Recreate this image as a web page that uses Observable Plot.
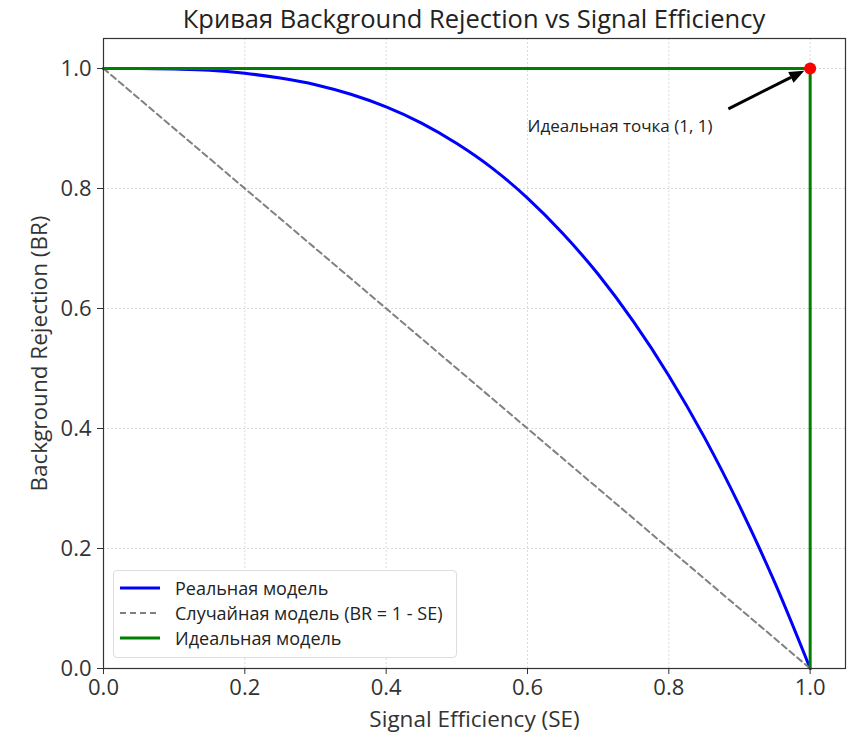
<!DOCTYPE html>
<html>
<head>
<meta charset="utf-8">
<script src="https://cdn.jsdelivr.net/npm/d3@7"></script>
<script src="https://cdn.jsdelivr.net/npm/@observablehq/plot@0.6"></script>
<style>
  body { margin: 0; background: #fff; font-family: "Open Sans", sans-serif; }
  #wrap { position: relative; width: 856px; height: 735px; }
  #title { position: absolute; left: 0; top: 1px; width: 948px; text-align: center; font-size: 25.5px; line-height: 34px; color: #222; }
  #chart { position: absolute; left: 0; top: 30px; }
  #legend { position: absolute; left: 113px; top: 570px; width: 344px; height: 88px; border: 1px solid #ddd; border-radius: 4px; background: rgba(255,255,255,0.85); box-sizing: border-box; font-size: 18px; color: #222; }
  .item { position: absolute; left: 6px; height: 24px; display: flex; align-items: center; }
  .item svg { margin-right: 15px; }
</style>
</head>
<body>
<div id="wrap">
  <div id="title">Кривая Background Rejection vs Signal Efficiency</div>
  <div id="chart"></div>
  <div id="legend"></div>
</div>
<script>
const se = [0, 0.05, 0.1, 0.15, 0.2, 0.25, 0.3, 0.35, 0.4, 0.45, 0.5, 0.55, 0.6, 0.65, 0.7, 0.75, 0.8, 0.85, 0.9, 0.95, 1.0];
const br = [1.0, 1.0, 0.999, 0.997, 0.992, 0.984, 0.973, 0.957, 0.936, 0.909, 0.875, 0.834, 0.784, 0.725, 0.657, 0.578, 0.488, 0.386, 0.271, 0.143, 0.0];
// Random model
const randomX = [0, 1];
const randomY = [1, 0];
// Ideal model
const idealX = [0, 1, 1];
const idealY = [1, 1, 0];
// Ideal point and annotation
const pointX = [1], pointY = [1];
const annotText = "Идеальная точка (1, 1)";
const annotX = 0.6, annotY = 0.9;
const arrowFrom = [0.885, 0.932];
const arrowTo = [1, 1];
const ticks = [0, 0.2, 0.4, 0.6, 0.8, 1.0];
const legendItems = [
  {label: "Реальная модель", color: "blue", dash: null},
  {label: "Случайная модель (BR = 1 - SE)", color: "gray", dash: "6,4"},
  {label: "Идеальная модель", color: "green", dash: null}
];

const real = se.map((x, i) => ({x, y: br[i]}));
const rnd = randomX.map((x, i) => ({x, y: randomY[i]}));
const ideal = idealX.map((x, i) => ({x, y: idealY[i]}));

// custom arrow with a filled head, positioned through the scales
function arrowMark(index, scales) {
  const ns = "http://www.w3.org/2000/svg";
  const g = document.createElementNS(ns, "g");
  const x1 = scales.x(arrowFrom[0]), y1 = scales.y(arrowFrom[1]);
  const x2 = scales.x(arrowTo[0]), y2 = scales.y(arrowTo[1]);
  const ang = Math.atan2(y2 - y1, x2 - x1);
  const shrink = 6, headL = 15, headW = 6;
  const tx = x2 - shrink * Math.cos(ang), ty = y2 - shrink * Math.sin(ang);
  const bx = tx - headL * Math.cos(ang), by = ty - headL * Math.sin(ang);
  const px = -Math.sin(ang), py = Math.cos(ang);
  const line = document.createElementNS(ns, "line");
  line.setAttribute("x1", x1); line.setAttribute("y1", y1);
  line.setAttribute("x2", bx); line.setAttribute("y2", by);
  line.setAttribute("stroke", "black"); line.setAttribute("stroke-width", 3);
  g.appendChild(line);
  const poly = document.createElementNS(ns, "polygon");
  poly.setAttribute("points", `${tx},${ty} ${bx + px * headW},${by + py * headW} ${bx - px * headW},${by - py * headW}`);
  poly.setAttribute("fill", "black");
  g.appendChild(poly);
  return g;
}

const chart = Plot.plot({
  width: 856,
  height: 705,
  marginLeft: 103,
  marginRight: 11,
  marginTop: 8,
  marginBottom: 67,
  style: {fontFamily: "'Open Sans', sans-serif", fontSize: "16px", color: "#333"},
  x: {domain: [0, 1.05]},
  y: {domain: [0, 1.05]},
  marks: [
    Plot.gridX(ticks, {stroke: "#ccc", strokeOpacity: 0.7, strokeDasharray: "2,2"}),
    Plot.gridY(ticks, {stroke: "#ccc", strokeOpacity: 0.7, strokeDasharray: "2,2"}),
    Plot.line(real, {x: "x", y: "y", stroke: "blue", strokeWidth: 3, curve: "monotone-x"}),
    Plot.line(rnd, {x: "x", y: "y", stroke: "gray", strokeWidth: 2, strokeDasharray: "6,4"}),
    Plot.line(ideal, {x: "x", y: "y", stroke: "green", strokeWidth: 3}),
    Plot.dot(pointX.map((x, i) => ({x, y: pointY[i]})), {x: "x", y: "y", r: 6, fill: "red", stroke: "none"}),
    arrowMark,
    Plot.text([annotText], {x: annotX, y: annotY, text: d => d, textAnchor: "start", fontSize: 17, fill: "#222", dy: -2}),
    Plot.axisX(ticks, {tickFormat: d3.format(".1f"), fontSize: 22, tickSize: 6, tickPadding: 5, label: "Signal Efficiency (SE)", labelAnchor: "center", labelArrow: "none", labelOffset: 58}),
    Plot.axisY(ticks, {tickFormat: d3.format(".1f"), fontSize: 22, tickSize: 6, tickPadding: 6, label: "Background Rejection (BR)", labelAnchor: "center", labelArrow: "none", labelOffset: 72}),
    Plot.frame({stroke: "#333", strokeWidth: 1.2})
  ]
});
chart.querySelectorAll("[aria-label='x-axis label'] text, [aria-label='y-axis label'] text").forEach(t => t.style.fontSize = "22.5px");
document.getElementById("chart").appendChild(chart);

const legend = document.getElementById("legend");
legendItems.forEach((it, i) => {
  const div = document.createElement("div");
  div.className = "item";
  div.style.top = (5 + i * 25) + "px";
  div.innerHTML = `<svg width="40" height="6"><line x1="0" y1="3" x2="40" y2="3" stroke="${it.color}" stroke-width="${it.dash ? 2 : 3}" ${it.dash ? `stroke-dasharray="${it.dash}"` : ""}/></svg><span>${it.label}</span>`;
  legend.appendChild(div);
});
</script>
</body>
</html>
